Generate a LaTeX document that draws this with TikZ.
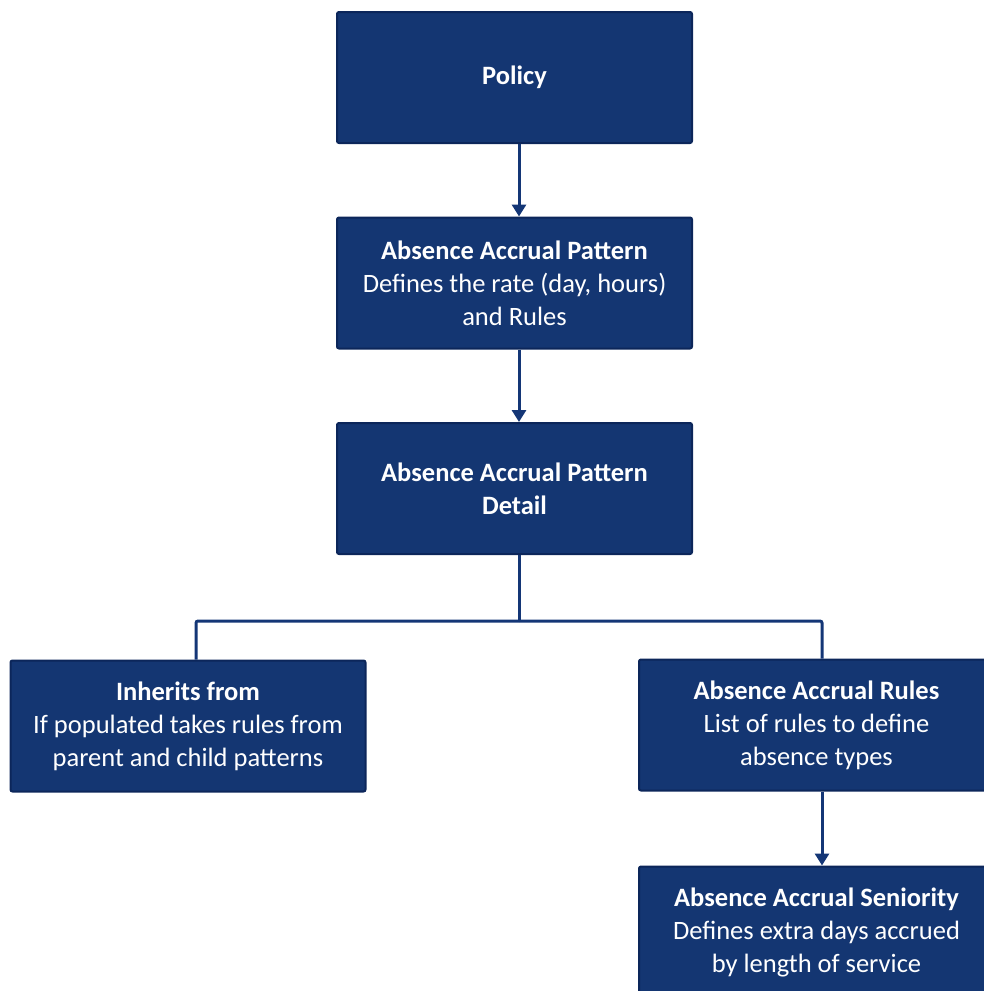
\documentclass[tikz,border=0pt]{standalone}
\usepackage{fontspec}
\setmainfont{Carlito}
\usetikzlibrary{arrows.meta}
\definecolor{boxfill}{RGB}{20,54,114}
\definecolor{boxline}{RGB}{12,38,90}
\definecolor{conn}{RGB}{20,54,118}
\tikzset{
  card/.style={draw=boxline, line width=2pt, fill=boxfill, rounded corners=2pt,
    minimum width=355pt, minimum height=131pt, text=white, align=center,
    font=\fontsize{26.5}{33}\selectfont, inner sep=0pt},
  link/.style={draw=conn, line width=3pt},
  arr/.style={link, -{Triangle[width=14pt,length=12pt]}}
}
\begin{document}
\begin{tikzpicture}[x=1pt,y=-1pt]
\useasboundingbox (0,0) rectangle (983,991);
\node[card] (policy) at (514.5,77.5) {\textbf{Policy}};
\node[card] (aap) at (514.5,283) {\textbf{Absence Accrual Pattern}\\Defines the rate (day, hours)\\and Rules};
\node[card] (aapd) at (514.5,488.5) {\textbf{Absence Accrual Pattern}\\\textbf{Detail}};
\node[card] (inh) at (188,726) {\textbf{Inherits from}\\If populated takes rules from\\parent and child patterns};
\node[card] (rules) at (816.5,725) {\textbf{Absence Accrual Rules}\\List of rules to define\\absence types};
\node[card] (sen) at (816.5,932) {\textbf{Absence Accrual Seniority}\\Defines extra days accrued\\by length of service};
\coordinate (j) at (519,621);
\draw[arr] ([xshift=4.5pt]policy.south) -- ([xshift=4.5pt]aap.north);
\draw[arr] ([xshift=4.5pt]aap.south) -- ([xshift=4.5pt]aapd.north);
\draw[link] ([xshift=4.5pt]aapd.south) -- (j);
\draw[link, rounded corners=2pt] (j) -| ([xshift=8pt]inh.north);
\draw[link, rounded corners=2pt] (j) -| ([xshift=5.5pt]rules.north);
\draw[arr] ([xshift=5.5pt]rules.south) -- ([xshift=5.5pt]sen.north);
\end{tikzpicture}
\end{document}
